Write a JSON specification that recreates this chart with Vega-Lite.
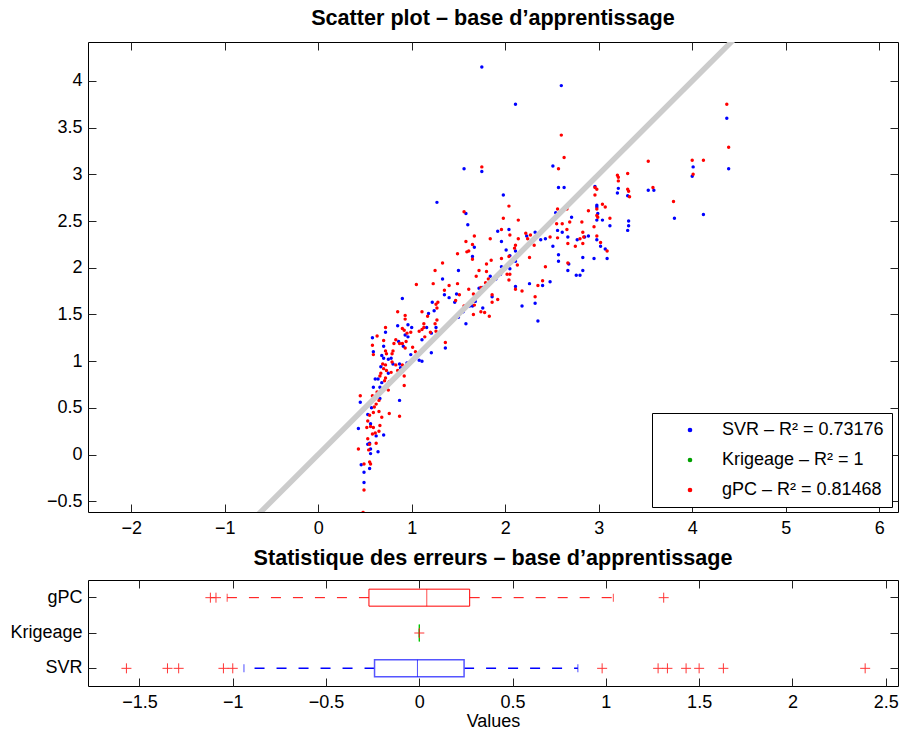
{
  "$schema": "https://vega.github.io/schema/vega-lite/v6.json",
  "padding": {"left": 9, "top": 7, "right": 4, "bottom": 4},
  "background": "white",
  "bounds": "flush",
  "spacing": 68,
  "config": {
    "font": "Liberation Sans",
    "view": {"stroke": "black", "strokeWidth": 1},
    "axis": {"domain": false, "grid": false, "ticks": true, "tickSize": -8, "tickColor": "#222222", "tickWidth": 1,
      "labelFont": "Liberation Sans", "labelFontSize": 18, "labelColor": "black", "labelPadding": 14,
      "titleFont": "Liberation Sans", "titleFontSize": 18, "titleFontWeight": "normal", "titleColor": "black", "zindex": 1},
    "title": {"font": "Liberation Sans", "fontSize": 21.6, "fontWeight": "bold", "color": "black", "anchor": "middle"}
  },
  "datasets": {
    "scatter": [
      {"m":"SVR","x":1.22,"y":1.63},{"m":"SVR","x":1.24,"y":1.54},{"m":"SVR","x":1.18,"y":1.51},{"m":"SVR","x":0.85,"y":1.38},{"m":"SVR","x":0.96,"y":1.39},{"m":"SVR","x":1.00,"y":1.36},{"m":"SVR","x":1.16,"y":1.36},{"m":"SVR","x":1.26,"y":1.36},{"m":"SVR","x":1.21,"y":1.30},{"m":"SVR","x":0.58,"y":1.25},{"m":"SVR","x":0.72,"y":1.31},{"m":"SVR","x":0.86,"y":1.21},{"m":"SVR","x":0.96,"y":1.26},{"m":"SVR","x":0.93,"y":1.28},{"m":"SVR","x":1.11,"y":1.23},{"m":"SVR","x":1.36,"y":1.14},{"m":"SVR","x":0.70,"y":1.16},{"m":"SVR","x":0.59,"y":1.10},{"m":"SVR","x":0.68,"y":1.06},{"m":"SVR","x":0.91,"y":1.16},{"m":"SVR","x":0.99,"y":1.07},{"m":"SVR","x":1.04,"y":1.04},{"m":"SVR","x":1.08,"y":1.01},{"m":"SVR","x":1.11,"y":1.00},{"m":"SVR","x":1.21,"y":1.09},{"m":"SVR","x":0.70,"y":1.03},{"m":"SVR","x":0.75,"y":1.02},{"m":"SVR","x":0.78,"y":1.03},{"m":"SVR","x":0.80,"y":0.97},{"m":"SVR","x":0.87,"y":0.97},{"m":"SVR","x":0.88,"y":0.93},{"m":"SVR","x":0.95,"y":0.98},{"m":"SVR","x":0.67,"y":0.94},{"m":"SVR","x":0.75,"y":0.87},{"m":"SVR","x":0.90,"y":0.89},{"m":"SVR","x":0.61,"y":0.81},{"m":"SVR","x":0.64,"y":0.81},{"m":"SVR","x":0.68,"y":0.77},{"m":"SVR","x":0.66,"y":0.72},{"m":"SVR","x":0.59,"y":0.72},{"m":"SVR","x":0.45,"y":0.56},{"m":"SVR","x":0.66,"y":0.60},{"m":"SVR","x":0.57,"y":0.50},{"m":"SVR","x":0.53,"y":0.43},{"m":"SVR","x":0.87,"y":0.58},{"m":"SVR","x":0.43,"y":0.28},{"m":"SVR","x":0.56,"y":0.33},{"m":"SVR","x":0.62,"y":0.20},{"m":"SVR","x":0.70,"y":0.21},{"m":"SVR","x":0.53,"y":0.11},{"m":"SVR","x":0.55,"y":0.12},{"m":"SVR","x":0.56,"y":0.06},{"m":"SVR","x":0.56,"y":0.01},{"m":"SVR","x":0.64,"y":0.03},{"m":"SVR","x":0.46,"y":-0.11},{"m":"SVR","x":0.55,"y":-0.15},{"m":"SVR","x":0.49,"y":-0.19},{"m":"SVR","x":0.49,"y":-0.30},
      {"m":"SVR","x":0.90,"y":1.67},{"m":"SVR","x":1.27,"y":2.70},
      {"m":"SVR","x":1.56,"y":3.06},{"m":"SVR","x":1.75,"y":3.03},{"m":"SVR","x":2.51,"y":3.09},{"m":"SVR","x":2.57,"y":2.86},{"m":"SVR","x":2.63,"y":2.86},{"m":"SVR","x":1.98,"y":2.78},{"m":"SVR","x":1.58,"y":2.58},{"m":"SVR","x":1.60,"y":2.46},{"m":"SVR","x":1.92,"y":2.39},{"m":"SVR","x":2.04,"y":2.41},{"m":"SVR","x":1.96,"y":2.28},{"m":"SVR","x":1.67,"y":2.22},{"m":"SVR","x":1.65,"y":2.12},{"m":"SVR","x":2.23,"y":2.34},{"m":"SVR","x":2.32,"y":2.38},{"m":"SVR","x":2.01,"y":2.19},{"m":"SVR","x":2.11,"y":2.18},{"m":"SVR","x":2.05,"y":2.13},{"m":"SVR","x":2.38,"y":2.30},{"m":"SVR","x":2.43,"y":2.31},{"m":"SVR","x":2.51,"y":2.23},{"m":"SVR","x":2.56,"y":2.40},{"m":"SVR","x":2.61,"y":2.38},{"m":"SVR","x":2.67,"y":2.33},{"m":"SVR","x":2.71,"y":2.54},{"m":"SVR","x":2.54,"y":2.59},{"m":"SVR","x":2.57,"y":2.14},{"m":"SVR","x":2.57,"y":2.07},{"m":"SVR","x":2.68,"y":2.04},{"m":"SVR","x":2.77,"y":2.30},{"m":"SVR","x":2.83,"y":2.11},{"m":"SVR","x":2.83,"y":1.97},{"m":"SVR","x":2.76,"y":1.92},{"m":"SVR","x":2.80,"y":1.92},{"m":"SVR","x":2.67,"y":1.97},{"m":"SVR","x":2.48,"y":1.85},{"m":"SVR","x":2.40,"y":1.81},{"m":"SVR","x":2.32,"y":1.62},{"m":"SVR","x":2.26,"y":1.83},{"m":"SVR","x":2.18,"y":1.59},{"m":"SVR","x":2.35,"y":1.43},{"m":"SVR","x":2.11,"y":1.80},{"m":"SVR","x":2.05,"y":1.99},{"m":"SVR","x":1.96,"y":2.01},{"m":"SVR","x":1.86,"y":1.69},{"m":"SVR","x":1.76,"y":1.57},{"m":"SVR","x":1.68,"y":1.64},{"m":"SVR","x":1.65,"y":1.59},{"m":"SVR","x":1.58,"y":1.40},{"m":"SVR","x":1.76,"y":1.79},{"m":"SVR","x":1.84,"y":1.91},{"m":"SVR","x":1.72,"y":1.78},{"m":"SVR","x":1.50,"y":1.97},{"m":"SVR","x":1.33,"y":1.88},{"m":"SVR","x":1.35,"y":1.71},{"m":"SVR","x":1.40,"y":1.68},{"m":"SVR","x":1.48,"y":1.72},{"m":"SVR","x":1.46,"y":1.63},{"m":"SVR","x":2.11,"y":2.07},
      {"m":"SVR","x":1.95,"y":1.93},{"m":"SVR","x":2.00,"y":1.99},{"m":"SVR","x":2.08,"y":2.07},{"m":"SVR","x":1.90,"y":1.88},{"m":"SVR","x":1.82,"y":1.81},{"m":"SVR","x":1.72,"y":1.71},{"m":"SVR","x":1.55,"y":1.53},{"m":"SVR","x":1.50,"y":1.47},{"m":"SVR","x":1.62,"y":1.59},
      {"m":"SVR","x":1.75,"y":4.15},{"m":"SVR","x":2.60,"y":3.95},{"m":"SVR","x":2.11,"y":3.75},{"m":"SVR","x":4.37,"y":3.60},
      {"m":"SVR","x":4.01,"y":3.08},{"m":"SVR","x":4.00,"y":2.98},{"m":"SVR","x":4.39,"y":3.06},{"m":"SVR","x":2.96,"y":2.87},{"m":"SVR","x":3.21,"y":2.85},{"m":"SVR","x":3.20,"y":2.80},{"m":"SVR","x":3.31,"y":2.77},{"m":"SVR","x":3.53,"y":2.83},{"m":"SVR","x":3.59,"y":2.83},{"m":"SVR","x":3.81,"y":2.53},{"m":"SVR","x":4.12,"y":2.57},{"m":"SVR","x":2.98,"y":2.67},{"m":"SVR","x":2.98,"y":2.65},{"m":"SVR","x":2.99,"y":2.58},{"m":"SVR","x":2.98,"y":2.51},{"m":"SVR","x":3.04,"y":2.51},{"m":"SVR","x":3.12,"y":2.45},{"m":"SVR","x":3.32,"y":2.50},{"m":"SVR","x":3.32,"y":2.45},{"m":"SVR","x":3.31,"y":2.40},{"m":"SVR","x":2.89,"y":2.34},{"m":"SVR","x":2.85,"y":2.33},{"m":"SVR","x":2.98,"y":2.30},{"m":"SVR","x":3.02,"y":2.23},{"m":"SVR","x":3.07,"y":2.20},{"m":"SVR","x":2.95,"y":2.10},{"m":"SVR","x":3.09,"y":2.10},
      {"m":"Krigeage","x":0.45,"y":0.45},{"m":"Krigeage","x":0.6,"y":0.6},{"m":"Krigeage","x":0.8,"y":0.8},{"m":"Krigeage","x":1.0,"y":1.0},{"m":"Krigeage","x":1.2,"y":1.2},{"m":"Krigeage","x":1.5,"y":1.5},{"m":"Krigeage","x":1.8,"y":1.8},{"m":"Krigeage","x":2.1,"y":2.1},{"m":"Krigeage","x":2.4,"y":2.4},{"m":"Krigeage","x":2.7,"y":2.7},{"m":"Krigeage","x":3.0,"y":3.0},{"m":"Krigeage","x":3.3,"y":3.3},{"m":"Krigeage","x":3.6,"y":3.6},{"m":"Krigeage","x":4.0,"y":4.0},{"m":"Krigeage","x":4.41,"y":4.41},
      {"m":"gPC","x":1.26,"y":1.61},{"m":"gPC","x":1.28,"y":1.63},{"m":"gPC","x":1.27,"y":1.57},{"m":"gPC","x":0.85,"y":1.53},{"m":"gPC","x":0.93,"y":1.49},{"m":"gPC","x":1.11,"y":1.53},{"m":"gPC","x":1.17,"y":1.48},{"m":"gPC","x":1.27,"y":1.44},{"m":"gPC","x":0.93,"y":1.45},{"m":"gPC","x":1.13,"y":1.40},{"m":"gPC","x":0.72,"y":1.36},{"m":"gPC","x":1.13,"y":1.36},{"m":"gPC","x":1.25,"y":1.40},{"m":"gPC","x":0.90,"y":1.35},{"m":"gPC","x":0.92,"y":1.33},{"m":"gPC","x":0.95,"y":1.30},{"m":"gPC","x":0.99,"y":1.31},{"m":"gPC","x":1.08,"y":1.32},{"m":"gPC","x":1.11,"y":1.34},{"m":"gPC","x":1.20,"y":1.31},{"m":"gPC","x":1.26,"y":1.32},{"m":"gPC","x":0.63,"y":1.27},{"m":"gPC","x":0.70,"y":1.22},{"m":"gPC","x":0.83,"y":1.23},{"m":"gPC","x":0.81,"y":1.19},{"m":"gPC","x":0.90,"y":1.19},{"m":"gPC","x":0.94,"y":1.21},{"m":"gPC","x":1.14,"y":1.26},{"m":"gPC","x":1.36,"y":1.20},{"m":"gPC","x":0.58,"y":1.17},{"m":"gPC","x":0.72,"y":1.11},{"m":"gPC","x":0.73,"y":1.08},{"m":"gPC","x":0.80,"y":1.11},{"m":"gPC","x":0.79,"y":1.08},{"m":"gPC","x":0.59,"y":1.07},{"m":"gPC","x":0.93,"y":1.14},{"m":"gPC","x":0.87,"y":1.19},{"m":"gPC","x":1.04,"y":1.10},{"m":"gPC","x":1.01,"y":1.15},{"m":"gPC","x":0.79,"y":0.99},{"m":"gPC","x":0.83,"y":0.96},{"m":"gPC","x":0.90,"y":0.96},{"m":"gPC","x":0.69,"y":0.97},{"m":"gPC","x":0.72,"y":0.96},{"m":"gPC","x":0.70,"y":0.92},{"m":"gPC","x":0.73,"y":0.90},{"m":"gPC","x":0.78,"y":0.88},{"m":"gPC","x":0.85,"y":0.90},{"m":"gPC","x":0.92,"y":0.84},{"m":"gPC","x":0.67,"y":0.87},{"m":"gPC","x":0.66,"y":0.84},{"m":"gPC","x":0.71,"y":0.79},{"m":"gPC","x":0.72,"y":0.82},{"m":"gPC","x":0.76,"y":0.78},{"m":"gPC","x":0.75,"y":0.69},{"m":"gPC","x":0.69,"y":0.69},{"m":"gPC","x":0.92,"y":0.74},{"m":"gPC","x":0.72,"y":0.73},{"m":"gPC","x":0.63,"y":0.67},{"m":"gPC","x":0.45,"y":0.63},{"m":"gPC","x":0.58,"y":0.63},{"m":"gPC","x":0.65,"y":0.58},{"m":"gPC","x":0.62,"y":0.54},{"m":"gPC","x":0.60,"y":0.51},{"m":"gPC","x":0.59,"y":0.45},{"m":"gPC","x":0.65,"y":0.46},{"m":"gPC","x":0.68,"y":0.40},{"m":"gPC","x":0.55,"y":0.42},{"m":"gPC","x":0.76,"y":0.44},{"m":"gPC","x":0.87,"y":0.41},{"m":"gPC","x":0.53,"y":0.36},{"m":"gPC","x":0.52,"y":0.29},{"m":"gPC","x":0.56,"y":0.30},{"m":"gPC","x":0.59,"y":0.29},{"m":"gPC","x":0.66,"y":0.31},{"m":"gPC","x":0.58,"y":0.22},{"m":"gPC","x":0.61,"y":0.23},{"m":"gPC","x":0.65,"y":0.25},{"m":"gPC","x":0.53,"y":0.17},{"m":"gPC","x":0.55,"y":0.11},{"m":"gPC","x":0.62,"y":0.12},{"m":"gPC","x":0.43,"y":0.06},{"m":"gPC","x":0.54,"y":0.05},{"m":"gPC","x":0.55,"y":-0.08},{"m":"gPC","x":0.56,"y":-0.10},{"m":"gPC","x":0.49,"y":-0.10},{"m":"gPC","x":0.49,"y":-0.38},{"m":"gPC","x":0.48,"y":-0.62},
      {"m":"gPC","x":1.05,"y":1.82},{"m":"gPC","x":1.23,"y":1.83},{"m":"gPC","x":1.25,"y":1.97},
      {"m":"gPC","x":1.75,"y":3.08},{"m":"gPC","x":2.63,"y":3.18},{"m":"gPC","x":2.57,"y":3.06},{"m":"gPC","x":2.04,"y":2.66},{"m":"gPC","x":1.56,"y":2.60},{"m":"gPC","x":1.98,"y":2.53},{"m":"gPC","x":2.14,"y":2.51},{"m":"gPC","x":1.96,"y":2.41},{"m":"gPC","x":1.67,"y":2.34},{"m":"gPC","x":1.84,"y":2.31},{"m":"gPC","x":2.05,"y":2.35},{"m":"gPC","x":1.58,"y":2.28},{"m":"gPC","x":1.65,"y":2.25},{"m":"gPC","x":1.59,"y":2.17},{"m":"gPC","x":1.61,"y":2.18},{"m":"gPC","x":1.49,"y":2.15},{"m":"gPC","x":1.65,"y":2.09},{"m":"gPC","x":1.85,"y":2.08},{"m":"gPC","x":1.80,"y":2.04},{"m":"gPC","x":2.22,"y":2.37},{"m":"gPC","x":2.27,"y":2.35},{"m":"gPC","x":2.24,"y":2.31},{"m":"gPC","x":2.14,"y":2.31},{"m":"gPC","x":2.11,"y":2.24},{"m":"gPC","x":2.10,"y":2.21},{"m":"gPC","x":1.96,"y":2.10},{"m":"gPC","x":2.04,"y":2.12},{"m":"gPC","x":2.13,"y":2.03},{"m":"gPC","x":2.26,"y":2.11},{"m":"gPC","x":2.31,"y":2.24},{"m":"gPC","x":2.48,"y":2.33},{"m":"gPC","x":2.56,"y":2.32},{"m":"gPC","x":2.55,"y":2.47},{"m":"gPC","x":2.61,"y":2.47},{"m":"gPC","x":2.66,"y":2.41},{"m":"gPC","x":2.67,"y":2.26},{"m":"gPC","x":2.69,"y":2.49},{"m":"gPC","x":2.66,"y":2.63},{"m":"gPC","x":2.56,"y":2.63},{"m":"gPC","x":2.82,"y":2.49},{"m":"gPC","x":2.67,"y":2.05},{"m":"gPC","x":2.83,"y":2.38},{"m":"gPC","x":2.84,"y":2.33},{"m":"gPC","x":2.75,"y":2.23},{"m":"gPC","x":2.40,"y":1.86},{"m":"gPC","x":2.35,"y":1.81},{"m":"gPC","x":2.43,"y":2.01},{"m":"gPC","x":2.32,"y":1.69},{"m":"gPC","x":2.18,"y":1.75},{"m":"gPC","x":2.11,"y":1.77},{"m":"gPC","x":2.05,"y":1.93},{"m":"gPC","x":2.02,"y":1.93},{"m":"gPC","x":2.04,"y":1.87},{"m":"gPC","x":1.92,"y":1.66},{"m":"gPC","x":1.86,"y":1.71},{"m":"gPC","x":1.86,"y":1.63},{"m":"gPC","x":1.83,"y":1.48},{"m":"gPC","x":1.78,"y":1.52},{"m":"gPC","x":1.74,"y":1.53},{"m":"gPC","x":1.66,"y":1.50},{"m":"gPC","x":1.67,"y":1.60},{"m":"gPC","x":1.56,"y":1.59},{"m":"gPC","x":1.74,"y":1.79},{"m":"gPC","x":1.79,"y":1.84},{"m":"gPC","x":1.82,"y":1.88},{"m":"gPC","x":1.80,"y":1.96},{"m":"gPC","x":1.72,"y":1.97},{"m":"gPC","x":1.69,"y":1.91},{"m":"gPC","x":1.61,"y":1.77},{"m":"gPC","x":1.66,"y":1.72},{"m":"gPC","x":1.49,"y":1.83},{"m":"gPC","x":1.40,"y":1.81},{"m":"gPC","x":1.33,"y":2.05},{"m":"gPC","x":1.35,"y":1.76},{"m":"gPC","x":1.47,"y":1.65},{"m":"gPC","x":1.51,"y":1.71},
      {"m":"gPC","x":2.60,"y":3.42},
      {"m":"gPC","x":4.39,"y":3.29},{"m":"gPC","x":4.00,"y":3.15},{"m":"gPC","x":4.12,"y":3.15},{"m":"gPC","x":4.01,"y":3.00},{"m":"gPC","x":3.53,"y":3.14},{"m":"gPC","x":3.31,"y":3.01},{"m":"gPC","x":3.20,"y":2.99},{"m":"gPC","x":3.21,"y":2.97},{"m":"gPC","x":3.21,"y":2.93},{"m":"gPC","x":2.96,"y":2.86},{"m":"gPC","x":2.98,"y":2.84},{"m":"gPC","x":3.31,"y":2.84},{"m":"gPC","x":3.32,"y":2.82},{"m":"gPC","x":3.33,"y":2.76},{"m":"gPC","x":3.58,"y":2.86},{"m":"gPC","x":2.96,"y":2.78},{"m":"gPC","x":3.80,"y":2.71},{"m":"gPC","x":3.04,"y":2.68},{"m":"gPC","x":3.07,"y":2.65},{"m":"gPC","x":2.89,"y":2.61},{"m":"gPC","x":2.98,"y":2.63},{"m":"gPC","x":2.98,"y":2.56},{"m":"gPC","x":2.99,"y":2.54},{"m":"gPC","x":3.12,"y":2.53},{"m":"gPC","x":2.95,"y":2.44},{"m":"gPC","x":2.80,"y":2.31},{"m":"gPC","x":2.98,"y":2.34},{"m":"gPC","x":2.83,"y":2.26},{"m":"gPC","x":3.02,"y":2.27},{"m":"gPC","x":3.09,"y":2.18},
      {"m":"gPC","x":4.37,"y":3.75}
    ],
    "diag": [{"x": -0.7, "y": -0.7}, {"x": 4.5, "y": 4.5}],
    "boxes": [
      {"m": "gPC", "lo": -1.03, "q1": -0.27, "med": 0.04, "q3": 0.27, "hi": 1.04},
      {"m": "Krigeage", "lo": 0, "q1": 0, "med": 0, "q3": 0, "hi": 0},
      {"m": "SVR", "lo": -0.94, "q1": -0.24, "med": -0.01, "q3": 0.24, "hi": 0.85}
    ],
    "outliers": [
      {"m": "gPC", "v": -1.12}, {"m": "gPC", "v": -1.09}, {"m": "gPC", "v": 1.31},
      {"m": "Krigeage", "v": 0},
      {"m": "SVR", "v": -1.57}, {"m": "SVR", "v": -1.35}, {"m": "SVR", "v": -1.29}, {"m": "SVR", "v": -1.05}, {"m": "SVR", "v": -1.00},
      {"m": "SVR", "v": 0.98}, {"m": "SVR", "v": 1.28}, {"m": "SVR", "v": 1.33}, {"m": "SVR", "v": 1.43}, {"m": "SVR", "v": 1.50}, {"m": "SVR", "v": 1.63}, {"m": "SVR", "v": 2.39}
    ]
  },
  "vconcat": [
    {
      "width": 810,
      "height": 470,
      "title": {"text": "Scatter plot – base d’apprentissage", "offset": 12},
      "layer": [
        {
          "data": {"name": "scatter"},
          "mark": {"type": "point", "filled": true, "size": 12, "opacity": 1, "clip": true},
          "encoding": {
            "x": {"field": "x", "type": "quantitative", "scale": {"domain": [-2.462, 6.201], "nice": false, "zero": false},
              "axis": {"orient": "bottom", "values": [-2, -1, 0, 1, 2, 3, 4, 5, 6], "title": null, "labelPadding": 15}},
            "y": {"field": "y", "type": "quantitative", "scale": {"domain": [-0.615, 4.417], "nice": false, "zero": false},
              "axis": {"orient": "left", "values": [-0.5, 0, 0.5, 1, 1.5, 2, 2.5, 3, 3.5, 4], "format": "~g", "title": null}},
            "color": {"field": "m", "type": "nominal",
              "scale": {"domain": ["SVR", "Krigeage", "gPC"], "range": ["#0000ff", "#00a000", "#ff0000"]},
              "legend": {"title": null, "orient": "none", "legendX": 564, "legendY": 371, "direction": "vertical",
                "strokeColor": "black", "fillColor": "white", "padding": 8, "symbolType": "circle", "symbolSize": 10,
                "symbolOffset": 21, "labelOffset": 23, "labelFontSize": 18, "labelColor": "black", "labelLimit": 400,
                "rowPadding": 12, "cornerRadius": 0,
                "labelExpr": "datum.label == 'SVR' ? 'SVR – R² = 0.73176' : datum.label == 'gPC' ? 'gPC – R² = 0.81468' : 'Krigeage – R² = 1'"}}
          }
        },
        {
          "data": {"name": "diag"},
          "mark": {"type": "line", "color": "#cccccc", "strokeWidth": 5.5, "clip": true},
          "encoding": {
            "x": {"field": "x", "type": "quantitative", "scale": {"domain": [-2.462, 6.201], "nice": false, "zero": false},
              "axis": {"orient": "top", "values": [-2, -1, 0, 1, 2, 3, 4, 5, 6], "labels": false, "title": null}},
            "y": {"field": "y", "type": "quantitative", "scale": {"domain": [-0.615, 4.417], "nice": false, "zero": false},
              "axis": {"orient": "right", "values": [-0.5, 0, 0.5, 1, 1.5, 2, 2.5, 3, 3.5, 4], "labels": false, "title": null}}
          }
        }
      ],
      "resolve": {"scale": {"x": "independent", "y": "independent"}}
    },
    {
      "width": 810,
      "height": 106,
      "title": {"text": "Statistique des erreurs – base d’apprentissage", "offset": 10},
      "layer": [
        {
          "data": {"name": "boxes"},
          "encoding": {
            "y": {"field": "m", "type": "nominal", "scale": {"type": "band", "domain": ["gPC", "Krigeage", "SVR"], "paddingInner": 0, "paddingOuter": 0},
              "axis": {"orient": "left", "title": null}},
            "color": {"field": "m", "type": "nominal", "scale": {"domain": ["gPC", "Krigeage", "SVR"], "range": ["#ff0000", "#00ee00", "#5555ff"]}, "legend": null},
            "strokeWidth": {"field": "m", "type": "nominal", "scale": {"domain": ["gPC", "Krigeage", "SVR"], "range": [1, 1.5, 2]}, "legend": null}
          },
          "layer": [
            {
              "mark": {"type": "rule", "strokeDash": [10, 12]},
              "encoding": {
                "x": {"field": "q1", "type": "quantitative", "scale": {"domain": [-1.776, 2.566], "nice": false, "zero": false},
                  "axis": {"orient": "bottom", "values": [-1.5, -1, -0.5, 0, 0.5, 1, 1.5, 2, 2.5], "format": "~g", "title": "Values", "labelPadding": 15, "titlePadding": 1}},
                "x2": {"field": "lo"}
              }
            },
            {
              "mark": {"type": "rule", "strokeDash": [10, 12]},
              "encoding": {"x": {"field": "q3", "type": "quantitative"}, "x2": {"field": "hi"}}
            },
            {
              "mark": {"type": "bar", "height": 17, "fill": "white", "fillOpacity": 0},
              "encoding": {"x": {"field": "q1", "type": "quantitative"}, "x2": {"field": "q3"}, "stroke": {"field": "m", "type": "nominal", "scale": {"domain": ["gPC", "Krigeage", "SVR"], "range": ["#ff0000", "#00ee00", "#5555ff"]}, "legend": null}}
            },
            {
              "mark": {"type": "tick", "size": 17, "thickness": 1},
              "encoding": {"x": {"field": "med", "type": "quantitative"}}
            },
            {
              "mark": {"type": "tick", "size": 8, "thickness": 1},
              "encoding": {"x": {"field": "lo", "type": "quantitative"}}
            },
            {
              "mark": {"type": "tick", "size": 8, "thickness": 1},
              "encoding": {"x": {"field": "hi", "type": "quantitative"}}
            }
          ]
        },
        {
          "data": {"name": "outliers"},
          "mark": {"type": "point", "shape": "M-1,0H1M0,-1V1", "filled": false, "size": 100, "color": "#ff2020", "strokeWidth": 1, "opacity": 0.9},
          "encoding": {
            "x": {"field": "v", "type": "quantitative", "scale": {"domain": [-1.776, 2.566], "nice": false, "zero": false},
              "axis": {"orient": "top", "values": [-1.5, -1, -0.5, 0, 0.5, 1, 1.5, 2, 2.5], "labels": false, "title": null}},
            "y": {"field": "m", "type": "nominal", "scale": {"type": "band", "domain": ["gPC", "Krigeage", "SVR"], "paddingInner": 0, "paddingOuter": 0},
              "axis": {"orient": "right", "labels": false, "title": null}}
          }
        }
      ],
      "resolve": {"scale": {"x": "independent", "y": "independent"}}
    }
  ]
}
